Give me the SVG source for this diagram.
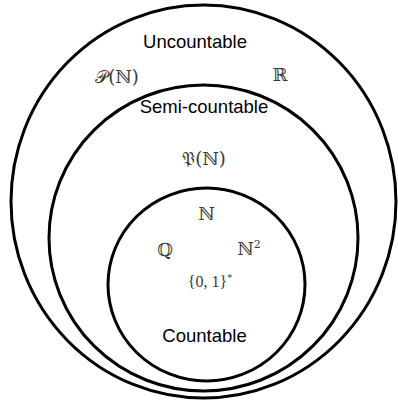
<svg xmlns="http://www.w3.org/2000/svg" width="398" height="401" viewBox="0 0 398 401">
<style>
.ring{fill:none;stroke:#000;stroke-width:3}
.lbl{font-family:"Liberation Sans",Arial,sans-serif;font-size:18.5px;fill:#000;text-anchor:middle}
.math{font-family:"DejaVu Serif","Liberation Serif",serif;font-size:18px;fill:#3a3a32;text-anchor:middle}
.small{font-family:"Liberation Serif",serif;font-size:16px}
</style>
<rect width="398" height="401" fill="#fff"/>
<g id="uncountable">
<ellipse class="ring" cx="203.5" cy="201.5" rx="192.5" ry="196.5"/>
<text class="lbl" x="195" y="48">Uncountable</text>
<text class="math" x="117" y="83">𝒫(ℕ)</text>
<text class="math" x="280" y="81">ℝ</text>
</g>
<g id="semi-countable">
<ellipse class="ring" cx="203.5" cy="238" rx="154.5" ry="153"/>
<text class="lbl" x="204" y="113">Semi-countable</text>
<text class="math" x="204" y="165">𝔓(ℕ)</text>
</g>
<g id="countable">
<ellipse class="ring" cx="206.5" cy="284.5" rx="98.5" ry="96.5"/>
<text class="math" x="206.5" y="220">ℕ</text>
<text class="math" x="165" y="256">ℚ</text>
<text class="math" x="249" y="255">ℕ<tspan font-size="11" dy="-7">2</tspan></text>
<text class="math small" x="210" y="287">{0, 1}<tspan style="font-size:10px" dy="-6">*</tspan></text>
<text class="lbl" x="204.5" y="342">Countable</text>
</g>
<g id="connectors"/>
</svg>
